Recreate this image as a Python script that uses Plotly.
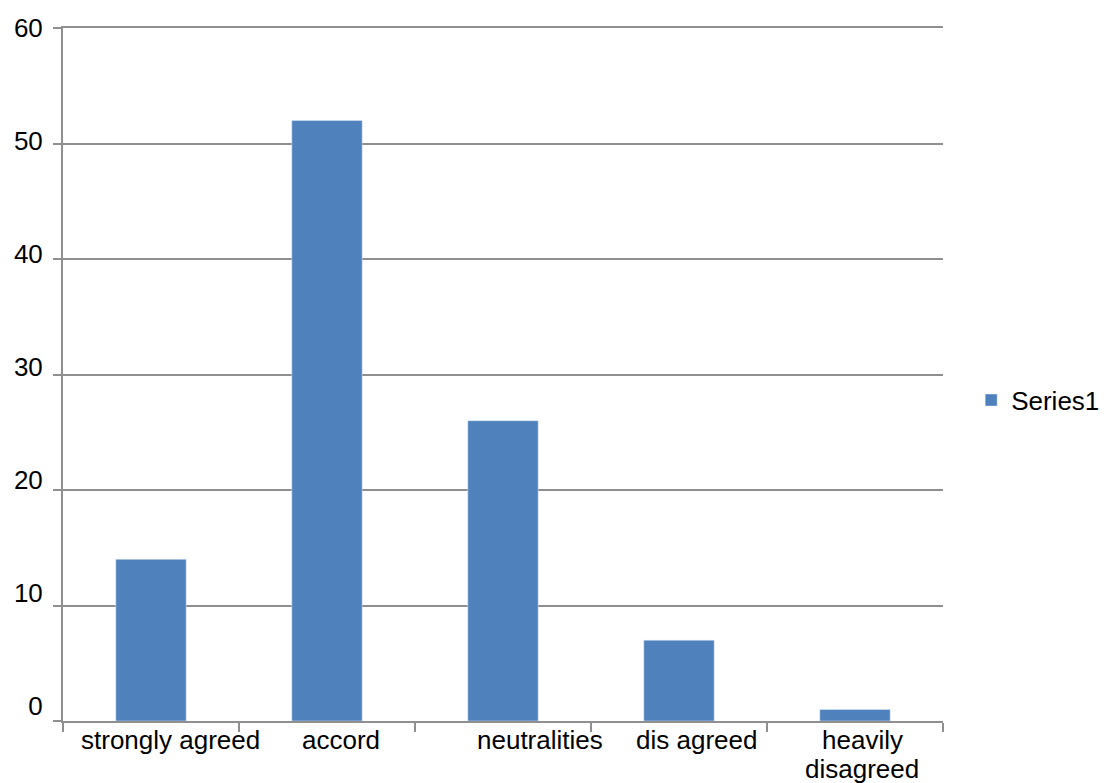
import plotly.graph_objects as go

categories = ["strongly agreed", "accord", "neutralities", "dis agreed", "heavily disagreed"]
label_lines = [["strongly agreed"], ["accord"], ["neutralities"], ["dis agreed"], ["heavily", "disagreed"]]
label_shift = [19, 14, 37, 17, 7]
values = [14, 52, 26, 7, 1]
y_ticks = [0, 10, 20, 30, 40, 50, 60]

FONT = "Liberation Sans, Arial, sans-serif"
GRID = "#8f8f8f"
FS = 26

fig = go.Figure()
fig.add_trace(go.Bar(x=categories, y=values, name="Series1", marker_color="#4F81BD",
                     width=0.4, showlegend=True))
# helper trace so the label axis is drawn (no visible marks)
fig.add_trace(go.Scatter(x=[categories[0]], y=[0], yaxis="y2", mode="markers",
                         marker=dict(opacity=0), showlegend=False, hoverinfo="skip"))

for cat, lines, sh in zip(categories, label_lines, label_shift):
    for i, txt in enumerate(lines):
        fig.add_annotation(x=cat, y=0, xref="x", yref="paper", yanchor="top", xanchor="center",
                           yshift=-2 - 29 * i, xshift=sh, text=txt, showarrow=False,
                           font=dict(family=FONT, size=FS, color="black"), align="center")

fig.update_layout(
    width=1109, height=783,
    margin=dict(l=63, r=166, t=28, b=62, autoexpand=False),
    plot_bgcolor="rgba(0,0,0,0)", paper_bgcolor="white",
    font=dict(family=FONT, size=FS, color="black"),
    bargap=0.6,
    showlegend=True,
    legend=dict(x=1.032, y=0.463, xanchor="left", yanchor="middle",
                font=dict(family=FONT, size=FS, color="black"), bgcolor="rgba(0,0,0,0)"),
    xaxis=dict(showticklabels=False, ticks="outside", tickson="boundaries", ticklen=9,
               tickcolor=GRID, showline=True, linecolor=GRID, linewidth=1.5, mirror=True,
               showgrid=False, tickwidth=1.5),
    yaxis=dict(range=[0, 60], tickvals=y_ticks, ticks="outside", ticklen=8, tickcolor=GRID,
               tickwidth=1.5, showline=True, linecolor=GRID, linewidth=1.5,
               showgrid=True, gridcolor=GRID, gridwidth=1.5, zeroline=False,
               showticklabels=False),
    yaxis2=dict(range=[0, 60], tickvals=y_ticks, domain=[15.5 / 693, 1], anchor="x",
                side="left", ticks="outside", ticklen=8, tickcolor="rgba(0,0,0,0)",
                showline=False, showgrid=False, zeroline=False,
                ticklabelstandoff=6, ticklabeloverflow="allow",
                tickfont=dict(family=FONT, size=FS, color="black")),
)

fig.write_html("out.html")
